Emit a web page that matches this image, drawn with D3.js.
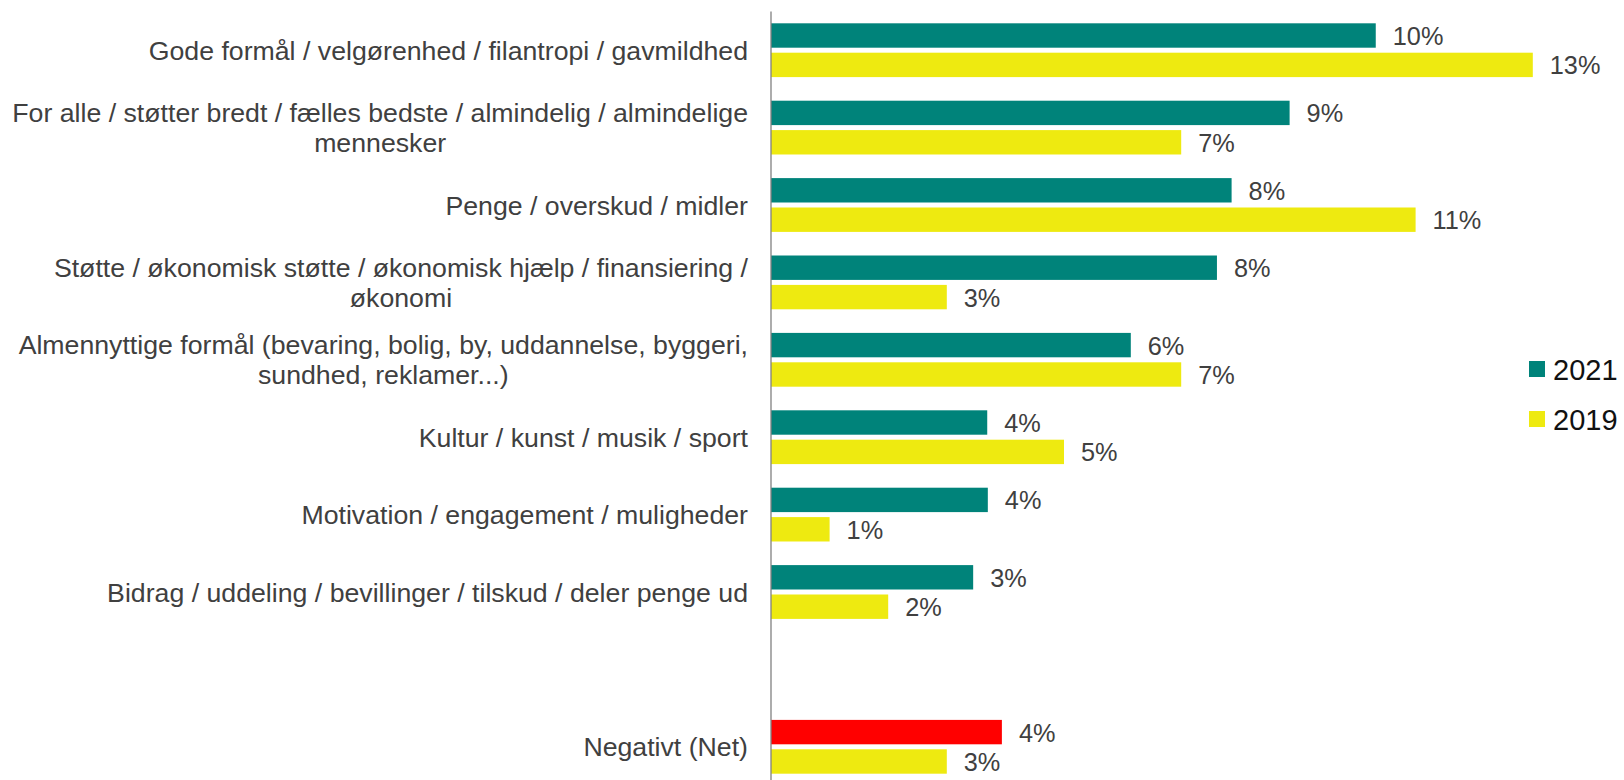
<!DOCTYPE html>
<html>
<head>
<meta charset="utf-8">
<script src="https://cdn.jsdelivr.net/npm/d3@7"></script>
<style>
  html, body { margin: 0; padding: 0; background: #fff; }
  svg { display: block; font-family: "Liberation Sans", Arial, sans-serif; }
</style>
</head>
<body>
<svg id="chart" width="1624" height="780"></svg>
<script>
// ---- Data ----
const categories = [
  "Gode formål / velgørenhed / filantropi / gavmildhed",
  "For alle / støtter bredt / fælles bedste / almindelig / almindelige|mennesker",
  "Penge / overskud / midler",
  "Støtte / økonomisk støtte / økonomisk hjælp / finansiering /|økonomi",
  "Almennyttige formål (bevaring, bolig, by, uddannelse, byggeri,|sundhed, reklamer...)",
  "Kultur / kunst / musik / sport",
  "Motivation / engagement / muligheder",
  "Bidrag / uddeling / bevillinger / tilskud / deler penge ud",
  "",
  "Negativt (Net)"
];
const seriesNames = ["2021", "2019"];
const values2021 = [10.32, 8.85, 7.86, 7.61, 6.14, 3.69, 3.70, 3.45, null, 3.94];
const values2019 = [13, 7, 11, 3, 7, 5, 1, 2, null, 3];
const negativeCategory = "Negativt (Net)";

// ---- Layout ----
const svg = d3.select("#chart");
const axisX = 771;
const x = d3.scaleLinear().domain([0, 14]).range([axisX, axisX + 14 * 58.6]);
const y = d3.scaleBand().domain(d3.range(categories.length))
  .range([11.5, 785.5]).paddingInner(0.305).paddingOuter(0.1525);
const ySub = d3.scaleBand().domain(seriesNames)
  .range([0, y.bandwidth()]).paddingInner(0.17).paddingOuter(0);

const colors = { "2021": "#00837A", "2019": "#EEEA10" };
const negColor = "#FF0000";
const seriesValues = { "2021": values2021, "2019": values2019 };

const rows = [];
categories.forEach((c, i) => {
  seriesNames.forEach(s => {
    const v = seriesValues[s][i];
    if (v != null) rows.push({ i, cat: c, s, v });
  });
});

// Bars
svg.append("g").selectAll("rect").data(rows).join("rect")
  .attr("x", x(0))
  .attr("y", d => y(d.i) + ySub(d.s))
  .attr("width", d => x(d.v) - x(0))
  .attr("height", ySub.bandwidth())
  .attr("fill", d => (d.cat === negativeCategory && d.s === "2021") ? negColor : colors[d.s]);

// Value labels
svg.append("g").selectAll("text").data(rows).join("text")
  .attr("x", d => x(d.v) + 17)
  .attr("y", d => y(d.i) + ySub(d.s) + ySub.bandwidth() / 2 + 9.5)
  .attr("font-size", 25.3)
  .attr("fill", "#404040")
  .text(d => Math.round(d.v) + "%");

// Axis line
svg.append("line")
  .attr("x1", axisX).attr("x2", axisX)
  .attr("y1", y.range()[0]).attr("y2", 780)
  .attr("stroke", "#808080").attr("stroke-width", 1.3);

// Category labels (right-aligned block, centered lines)
const labelRight = 748;
const lineH = 30;
const fs = 26.7;
const lg = svg.append("g").attr("font-size", fs).attr("fill", "#404040");
categories.forEach((c, i) => {
  if (!c) return;
  const lines = c.split("|");
  const cy = y(i) + y.bandwidth() / 2;
  const widths = lines.map(l => {
    const t = lg.append("text").text(l);
    const w = t.node().getComputedTextLength();
    t.remove();
    return w;
  });
  const maxW = d3.max(widths);
  const cx = labelRight - maxW / 2;
  const n = lines.length;
  lines.forEach((l, k) => {
    lg.append("text")
      .attr("x", cx)
      .attr("y", cy + (k - (n - 1) / 2) * lineH + 9.5)
      .attr("text-anchor", "middle")
      .text(l);
  });
});

// Legend
const legend = svg.append("g");
seriesNames.forEach((s, k) => {
  const gy = 361 + k * 50;
  legend.append("rect").attr("x", 1529).attr("y", gy).attr("width", 16).attr("height", 16)
    .attr("fill", colors[s]);
  legend.append("text").attr("x", 1553).attr("y", gy + 18.5)
    .attr("font-size", 29).attr("fill", "#111").text(s);
});
</script>
</body>
</html>
